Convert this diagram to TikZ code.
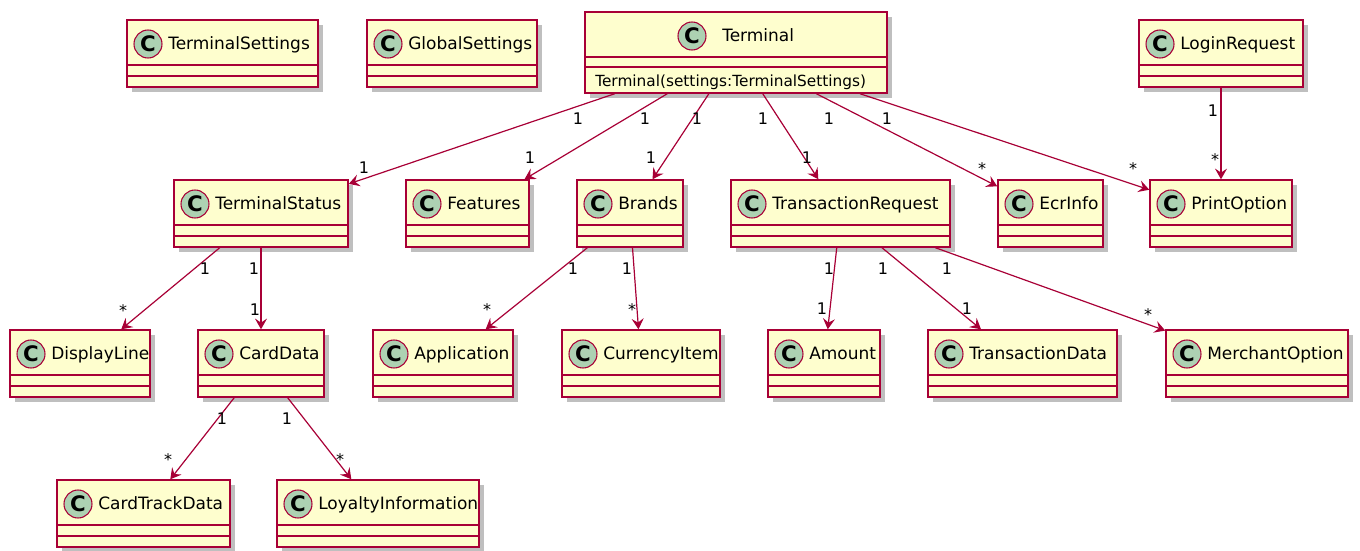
\documentclass[tikz,border=0pt]{standalone}
\usepackage{fontspec}
\setmainfont{DejaVu Sans}
\usetikzlibrary{arrows.meta,fit,shadows}

\definecolor{clsfill}{HTML}{FEFECE}
\definecolor{clsline}{HTML}{A80036}
\definecolor{spotfill}{HTML}{ADD1B2}

% one class box: name, left, top, right (px, y down)
\newcommand{\umlclass}[4]{%
	\node[cls,fit={(#2,#3) (#4,#3+67)}] (#1) {};
	\draw[clssep] (#2,#3+45) -- (#4,#3+45);
	\draw[clssep] (#2,#3+56) -- (#4,#3+56);
	\node[clsspot] (#1-c) at (#2+21,#3+24) {C};
	\node[clsname] (#1-n) at (#2+41,#3+29) {#1};
}

\begin{document}
\begin{tikzpicture}[x=0.75pt,y=-0.75pt,
	cls/.style={draw=clsline,fill=clsfill,line width=1.1pt,inner sep=0pt,
		drop shadow={shadow xshift=3.5pt,shadow yshift=-3.5pt,fill=black!50,opacity=.5}},
	clssep/.style={draw=clsline,line width=1.1pt},
	clsspot/.style={circle,draw=clsline,fill=spotfill,line width=0.8pt,minimum size=21pt,inner sep=0pt,font=\fontsize{16}{16}\selectfont\bfseries},
	clsname/.style={anchor=base west,inner sep=0pt,font=\fontsize{12.75}{15}\selectfont},
	method/.style={anchor=base west,inner sep=0pt,font=\fontsize{11.5}{13}\selectfont},
	multlabel/.style={anchor=base,inner sep=0pt,font=\fontsize{12}{14}\selectfont},
	assoc/.style={draw=clsline,line width=0.9pt,-{Stealth[length=8pt,width=9pt,inset=3pt]}}]
	\useasboundingbox (0,0) rectangle (1360,550);

	% top row
	\umlclass{TerminalSettings}{127}{20}{318}
	\umlclass{GlobalSettings}{367}{20}{537}
	\umlclass{LoginRequest}{1139}{20}{1303}
	\node[cls,fit={(585,12) (887,93)}] (Terminal) {};
	\draw[clssep] (585,57) -- (887,57);
	\draw[clssep] (585,67) -- (887,67);
	\node[clsspot] (Terminal-c) at (692,36) {C};
	\node[clsname] (Terminal-n) at (722,41) {Terminal};
	\node[method] (Terminal-m) at (595,86) {Terminal(settings:TerminalSettings)};

	% second row
	\umlclass{TerminalStatus}{174}{180}{348}
	\umlclass{Features}{406}{180}{529}
	\umlclass{Brands}{577}{180}{683}
	\umlclass{TransactionRequest}{731}{180}{950}
	\umlclass{EcrInfo}{998}{180}{1103}
	\umlclass{PrintOption}{1150}{180}{1292}

	% third row
	\umlclass{DisplayLine}{10}{330}{150}
	\umlclass{CardData}{198}{330}{324}
	\umlclass{Application}{373}{330}{513}
	\umlclass{CurrencyItem}{562}{330}{720}
	\umlclass{Amount}{768}{330}{880}
	\umlclass{TransactionData}{928}{330}{1117}
	\umlclass{MerchantOption}{1166}{330}{1348}

	% bottom row
	\umlclass{CardTrackData}{57}{480}{230}
	\umlclass{LoyaltyInformation}{277}{480}{479}

	% associations
	\draw[assoc] (Terminal) -- (TerminalStatus);
	\draw[assoc] (Terminal) -- (Features);
	\draw[assoc] (Terminal) -- (Brands);
	\draw[assoc] (Terminal) -- (TransactionRequest);
	\draw[assoc] (Terminal) -- (EcrInfo);
	\draw[assoc] (Terminal) -- (PrintOption);
	\draw[assoc] (LoginRequest) -- (PrintOption);
	\draw[assoc] (TerminalStatus) -- (DisplayLine);
	\draw[assoc] (TerminalStatus) -- (CardData);
	\draw[assoc] (Brands) -- (Application);
	\draw[assoc] (Brands) -- (CurrencyItem);
	\draw[assoc] (TransactionRequest) -- (Amount);
	\draw[assoc] (TransactionRequest) -- (TransactionData);
	\draw[assoc] (TransactionRequest) -- (MerchantOption);
	\draw[assoc] (CardData) -- (CardTrackData);
	\draw[assoc] (CardData) -- (LoyaltyInformation);

	% multiplicities
	\node[multlabel] (l1s) at (578,124) {1};
	\node[multlabel] (l1e) at (364,173) {1};
	\node[multlabel] (l2s) at (645,124) {1};
	\node[multlabel] (l2e) at (530,163) {1};
	\node[multlabel] (l3s) at (697,124) {1};
	\node[multlabel] (l3e) at (651,163) {1};
	\node[multlabel] (l4s) at (763,124) {1};
	\node[multlabel] (l4e) at (807,163) {1};
	\node[multlabel] (l5s) at (829,124) {1};
	\node[multlabel] (l5e) at (982,174) {*};
	\node[multlabel] (l6s) at (887,124) {1};
	\node[multlabel] (l6e) at (1133,174) {*};
	\node[multlabel] (l7s) at (1213,116) {1};
	\node[multlabel] (l7e) at (1215,165) {*};
	\node[multlabel] (l8s) at (205,274) {1};
	\node[multlabel] (l8e) at (123,316) {*};
	\node[multlabel] (l9s) at (254,274) {1};
	\node[multlabel] (l9e) at (255,315) {1};
	\node[multlabel] (l10s) at (573,274) {1};
	\node[multlabel] (l10e) at (487,315) {*};
	\node[multlabel] (l11s) at (627,274) {1};
	\node[multlabel] (l11e) at (632,315) {*};
	\node[multlabel] (l12s) at (829,274) {1};
	\node[multlabel] (l12e) at (822,314) {1};
	\node[multlabel] (l13s) at (883,274) {1};
	\node[multlabel] (l13e) at (967,314) {1};
	\node[multlabel] (l14s) at (947,274) {1};
	\node[multlabel] (l14e) at (1148,320) {*};
	\node[multlabel] (l15s) at (222,424) {1};
	\node[multlabel] (l15e) at (168,465) {*};
	\node[multlabel] (l16s) at (287,424) {1};
	\node[multlabel] (l16e) at (340,465) {*};
\end{tikzpicture}
\end{document}
